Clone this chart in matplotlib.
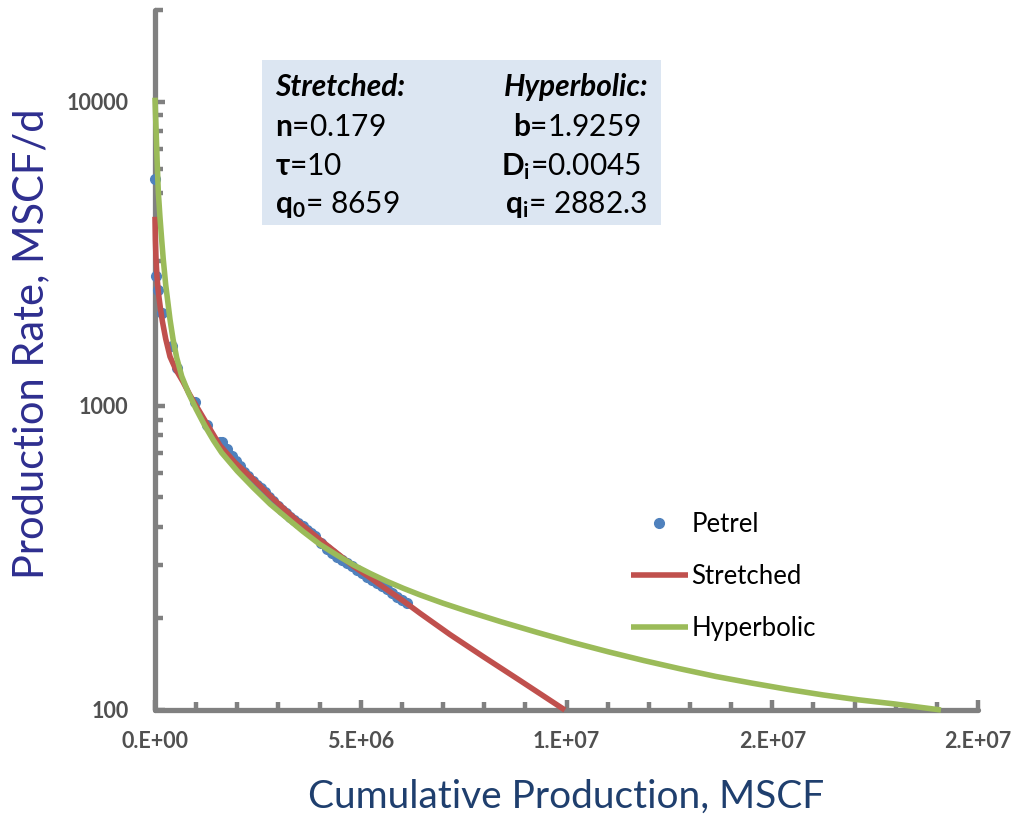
import matplotlib
matplotlib.use("Agg")
import matplotlib.pyplot as plt
from matplotlib.ticker import FixedLocator, NullFormatter, FixedFormatter, LogLocator

plt.rcParams['mathtext.fontset'] = 'custom'
plt.rcParams['mathtext.rm'] = 'Lato'
plt.rcParams['mathtext.bf'] = 'Lato:bold'
plt.rcParams['mathtext.it'] = 'Lato:italic'

# ---- data ----
petrel_x = [0, 1.5e4, 7.0e4, 1.7e5, 4.1e5, 5.3e5, 9.7e5, 1.26e6, 1.58e6, 1.63e6, 1.75e6, 1.87e6, 1.97e6,
            2.07e6, 2.16e6, 2.26e6, 2.37e6, 2.48e6, 2.58e6, 2.67e6, 2.77e6, 2.87e6, 2.98e6, 3.09e6,
            3.18e6, 3.28e6, 3.38e6, 3.48e6, 3.59e6, 3.69e6, 3.79e6, 3.89e6, 4.03e6, 4.18e6, 4.30e6,
            4.42e6, 4.54e6, 4.67e6, 4.79e6, 4.91e6, 5.03e6, 5.15e6, 5.27e6, 5.40e6, 5.52e6, 5.64e6,
            5.76e6, 5.88e6, 6.00e6, 6.12e6]
petrel_q = [5575, 2680, 2400, 2017, 1570, 1329, 1027, 862, 759, 758, 720, 682, 656,
            632, 608, 586, 568, 551, 535, 519, 501, 485, 470, 456,
            443, 432, 422, 413, 402, 392, 382, 372, 354, 337, 328,
            319, 312, 305, 297, 289, 281, 274, 268, 262, 255, 249,
            242, 236, 230, 225]

stretched_x = [0, 1.0e4, 2.4e4, 5.0e4, 8.1e4, 1.3e5, 1.78e5, 2.6e5, 3.65e5, 5.0e5, 6.8e5, 8.4e5,
               1.02e6, 1.34e6, 1.58e6, 1.95e6, 2.39e6, 2.8e6, 3.2e6, 3.6e6, 4.01e6, 4.42e6,
               4.82e6, 5.23e6, 5.63e6, 6.04e6, 6.44e6, 7.17e6, 7.97e6, 8.87e6, 9.96e6]
stretched_q = [4180, 3500, 3040, 2650, 2360, 2100, 1900, 1660, 1450, 1320, 1200, 1090,
               990, 837, 740, 650, 573, 505, 450, 403, 363, 328,
               297, 272, 249, 228, 208, 177, 150, 125, 100]

hyperbolic_x = [0, 1.5e4, 3e4, 5.5e4, 8.1e4, 1.2e5, 1.6e5, 2.0e5, 2.6e5, 3.65e5, 4.4e5, 5.27e5, 6.5e5,
                8.1e5, 1.0e6, 1.215e6, 1.42e6, 1.62e6, 2.0e6, 2.39e6, 2.8e6, 3.2e6, 3.6e6, 4.01e6,
                4.42e6, 4.82e6, 5.23e6, 5.63e6, 6.04e6, 6.44e6, 7.0e6, 7.56e6, 8.42e6, 9.29e6, 1.016e7,
                1.102e7, 1.188e7, 1.276e7, 1.363e7, 1.45e7, 1.536e7, 1.623e7, 1.71e7, 1.797e7, 1.91e7]
hyperbolic_q = [10300, 8900, 7800, 6200, 5040, 4180, 3550, 3040, 2500, 1920, 1650, 1440, 1250,
                1105, 975, 858, 770, 701, 610, 538, 475, 428, 386, 350,
                323, 300, 281, 265, 251, 239, 224.4, 211.8, 194.8, 179.9, 166.6,
                155.3, 145.4, 136.6, 128.9, 122.6, 117.0, 112.1, 108.0, 104.7, 100]

x_ticks = [0, 5e6, 1e7, 1.5e7, 2e7]
x_tick_labels = ["0.E+00", "5.E+06", "1.E+07", "2.E+07", "2.E+07"]
y_ticks = [100, 1000, 10000]
y_tick_labels = ["100", "1000", "10000"]

# ---- figure ----
W, H = 1018, 814
fig = plt.figure(figsize=(W / 100, H / 100), dpi=100)
ax = fig.add_axes([155 / W, (H - 710) / H, 823 / W, 700 / H])

blue = '#4F81BD'
red = '#C0504D'
green = '#9BBB59'
gray = '#808080'

ax.plot(petrel_x, petrel_q, 'o', color=blue, markersize=7, label='Petrel', zorder=3, clip_on=False)
ax.plot(stretched_x, stretched_q, '-', color=red, lw=4.0, label='Stretched', zorder=4,
        solid_capstyle='butt', solid_joinstyle='round', clip_on=False)
ax.plot(hyperbolic_x, hyperbolic_q, '-', color=green, lw=4.0, label='Hyperbolic', zorder=5,
        solid_capstyle='butt', solid_joinstyle='round', clip_on=False)

ax.set_yscale('log')
ax.set_xlim(0, 2e7)
ax.set_ylim(100, 20000)

for s in ['top', 'right']:
    ax.spines[s].set_visible(False)
for s in ['left', 'bottom']:
    ax.spines[s].set_color(gray)
    ax.spines[s].set_linewidth(3.8)
    ax.spines[s].set_capstyle('round')

ax.xaxis.set_major_locator(FixedLocator(x_ticks))
ax.xaxis.set_major_formatter(FixedFormatter(x_tick_labels))
ax.xaxis.set_minor_locator(FixedLocator([i * 1e6 for i in range(21)]))
ax.yaxis.set_major_locator(FixedLocator(y_ticks))
ax.yaxis.set_major_formatter(FixedFormatter(y_tick_labels))
ax.yaxis.set_minor_locator(LogLocator(base=10, subs=range(2, 10)))
ax.yaxis.set_minor_formatter(NullFormatter())

ax.tick_params(axis='both', which='major', direction='in', length=7.5, width=3.2, color=gray)
ax.tick_params(axis='both', which='minor', direction='in', length=6, width=3.2, color=gray)
ax.tick_params(axis='x', which='major', pad=15)
ax.tick_params(axis='y', which='major', pad=19)
for lab in ax.get_xticklabels() + ax.get_yticklabels():
    lab.set_fontfamily('Lato')
    lab.set_fontweight('bold')
    lab.set_fontsize(15.5)
    lab.set_color('#505050')

fig.text(566 / W, 1 - 797 / H, 'Cumulative Production, MSCF', fontsize=28, color='#1F3F6E',
         family='Lato', ha='center', va='center')
fig.text(31 / W, 1 - 344 / H, 'Production Rate, MSCF/d', fontsize=30, color='#2E2E8F',
         family='Lato', ha='center', va='center', rotation=90)

# parameter box
box_l, box_t, box_r, box_b = 262, 60, 661, 225
fig.patches.append(matplotlib.patches.Rectangle((box_l / W, 1 - box_b / H), (box_r - box_l) / W,
                                                (box_b - box_t) / H, transform=fig.transFigure,
                                                facecolor='#DCE6F2', edgecolor='none', zorder=1))
fs = 21.5
fam = ['Lato', 'DejaVu Sans']
base_y = [96, 136, 175, 213]
fig.text(275 / W, 1 - base_y[0] / H, 'Stretched:', fontsize=fs, family=fam, weight='bold', style='italic',
         va='baseline', ha='left')
fig.text(648 / W, 1 - base_y[0] / H, 'Hyperbolic:', fontsize=fs, family=fam, weight='bold', style='italic',
         va='baseline', ha='right')
left_items = [r'$\mathbf{n}$=0.179', r'$\mathbf{\tau}$=10', r'$\mathbf{q_0}$= 8659']
right_items = [r'$\mathbf{b}$=1.9259', r'$\mathbf{D_i}$=0.0045', r'$\mathbf{q_i}$= 2882.3']
right_edge = [641, 641, 647]
for i in range(3):
    fig.text(275 / W, 1 - base_y[i + 1] / H, left_items[i], fontsize=fs, family=fam, va='baseline',
             ha='left')
    fig.text(right_edge[i] / W, 1 - base_y[i + 1] / H, right_items[i], fontsize=fs, family=fam,
             va='baseline', ha='right')

leg = ax.legend(loc='upper left', bbox_to_anchor=(631 / W, 1 - 512 / H), bbox_transform=fig.transFigure,
                frameon=False, prop={'family': 'Lato', 'size': 18.5}, handlelength=2.2,
                handletextpad=0.15, labelspacing=1.06, borderaxespad=0, borderpad=0)

fig.savefig('out.png', dpi=100)
